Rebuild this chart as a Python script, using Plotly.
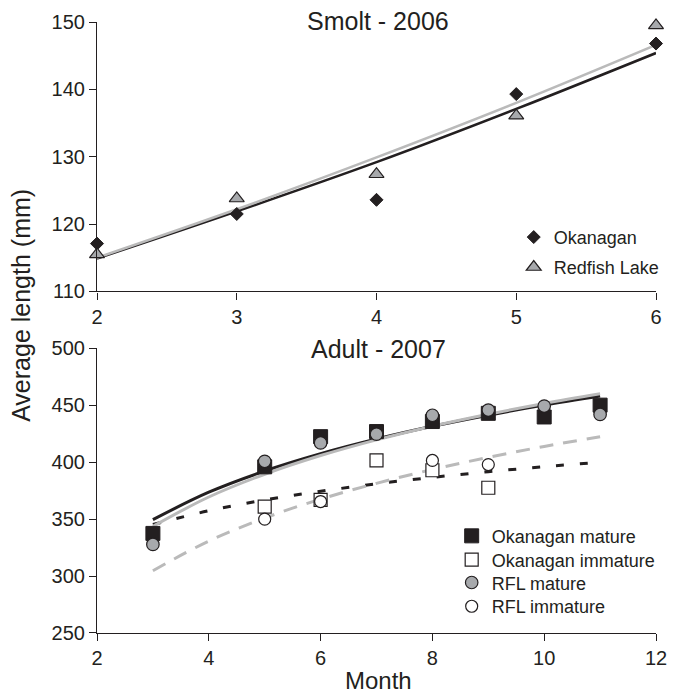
import plotly.graph_objects as go

# ---------------- data ----------------
smolt_months = [2, 3, 4, 5, 6]
smolt_okanagan = [117.1, 121.5, 123.6, 139.3, 146.8]
smolt_redfish = [115.5, 123.8, 127.4, 136.1, 149.5]
smolt_okanagan_trend = [114.9, 121.9, 129.2, 137.1, 145.4]
smolt_redfish_trend = [115.0, 122.2, 129.9, 138.0, 146.6]

adult_trend_months = [3, 4, 5, 6, 7, 8, 9, 10, 11]
okan_mature_trend = [349.6, 373.7, 392.3, 407.5, 420.4, 431.6, 441.4, 450.3, 458.2]
rfl_mature_trend = [343.7, 369.5, 389.5, 405.9, 419.7, 431.7, 442.2, 451.7, 460.2]
okan_immature_trend = [345.3, 357.4, 366.9, 374.5, 381.1, 386.7, 391.7, 396.1, 400.1]
rfl_immature_trend = [304.7, 330.8, 351.0, 367.6, 381.5, 393.7, 404.3, 413.9, 422.5]

okan_mature_months = [3, 5, 6, 7, 8, 9, 10, 11]
okan_mature = [337.5, 396.0, 422.5, 427.0, 435.8, 443.0, 439.8, 450.2]
okan_immature_months = [5, 6, 7, 8, 9]
okan_immature = [361.0, 367.0, 401.6, 393.0, 377.6]
rfl_mature_months = [3, 5, 6, 7, 8, 9, 10, 11]
rfl_mature = [327.8, 400.8, 417.0, 424.7, 441.3, 445.9, 449.4, 442.0]
rfl_immature_months = [5, 6, 8, 9]
rfl_immature = [350.0, 365.5, 401.6, 398.0]

smolt_xticks = [2, 3, 4, 5, 6]
smolt_yticks = [110, 120, 130, 140, 150]
adult_xticks = [2, 4, 6, 8, 10, 12]
adult_yticks = [250, 300, 350, 400, 450, 500]

# ---------------- style ----------------
BLACK = "#231f20"
GREY_LINE = "#bababa"
GREY_FILL = "#a7a9ac"
FONT = "Liberation Sans, Arial, sans-serif"

fig = go.Figure()

# top panel trend lines
fig.add_trace(go.Scatter(x=smolt_months, y=smolt_okanagan_trend, mode="lines",
                         line=dict(color=BLACK, width=2.6, shape="spline"),
                         showlegend=False, xaxis="x", yaxis="y", hoverinfo="skip"))
fig.add_trace(go.Scatter(x=smolt_months, y=smolt_redfish_trend, mode="lines",
                         line=dict(color=GREY_LINE, width=2.6, shape="spline"),
                         showlegend=False, xaxis="x", yaxis="y", hoverinfo="skip"))
# top panel points
fig.add_trace(go.Scatter(x=smolt_months, y=smolt_okanagan, mode="markers", name="Okanagan",
                         marker=dict(symbol="diamond", size=10, color=BLACK,
                                     line=dict(color=BLACK, width=1)),
                         xaxis="x", yaxis="y", legend="legend", cliponaxis=False))
fig.add_trace(go.Scatter(x=smolt_months, y=smolt_redfish, mode="markers", name="Redfish Lake",
                         marker=dict(symbol="triangle-up", size=13, color=GREY_FILL,
                                     line=dict(color=BLACK, width=1.2)),
                         xaxis="x", yaxis="y", legend="legend2", cliponaxis=False))

# bottom panel trend lines
fig.add_trace(go.Scatter(x=adult_trend_months, y=okan_immature_trend, mode="lines",
                         line=dict(color=BLACK, width=3, dash="8px,16px", shape="spline"),
                         showlegend=False, xaxis="x2", yaxis="y2", hoverinfo="skip"))
fig.add_trace(go.Scatter(x=adult_trend_months, y=rfl_immature_trend, mode="lines",
                         line=dict(color=GREY_LINE, width=3, dash="14px,10px", shape="spline"),
                         showlegend=False, xaxis="x2", yaxis="y2", hoverinfo="skip"))
fig.add_trace(go.Scatter(x=adult_trend_months, y=okan_mature_trend, mode="lines",
                         line=dict(color=BLACK, width=3, shape="spline"),
                         showlegend=False, xaxis="x2", yaxis="y2", hoverinfo="skip"))
fig.add_trace(go.Scatter(x=adult_trend_months, y=rfl_mature_trend, mode="lines",
                         line=dict(color=GREY_LINE, width=3, shape="spline"),
                         showlegend=False, xaxis="x2", yaxis="y2", hoverinfo="skip"))

# bottom panel points
fig.add_trace(go.Scatter(x=okan_mature_months, y=okan_mature, mode="markers", name="Okanagan mature",
                         marker=dict(symbol="square", size=14, color=BLACK,
                                     line=dict(color=BLACK, width=1)),
                         xaxis="x2", yaxis="y2", legend="legend3", cliponaxis=False))
fig.add_trace(go.Scatter(x=okan_immature_months, y=okan_immature, mode="markers", name="Okanagan immature",
                         marker=dict(symbol="square", size=13, color="white",
                                     line=dict(color=BLACK, width=1.2)),
                         xaxis="x2", yaxis="y2", legend="legend4", cliponaxis=False))
fig.add_trace(go.Scatter(x=rfl_mature_months, y=rfl_mature, mode="markers", name="RFL mature",
                         marker=dict(symbol="circle", size=12.5, color=GREY_FILL,
                                     line=dict(color=BLACK, width=1.2)),
                         xaxis="x2", yaxis="y2", legend="legend5", cliponaxis=False))
fig.add_trace(go.Scatter(x=rfl_immature_months, y=rfl_immature, mode="markers", name="RFL immature",
                         marker=dict(symbol="circle", size=12, color="white",
                                     line=dict(color=BLACK, width=1.2)),
                         xaxis="x2", yaxis="y2", legend="legend6", cliponaxis=False))

axis_common = dict(showgrid=False, zeroline=False, showline=True, linecolor=BLACK, linewidth=1.2,
                   ticks="outside", ticklen=7, tickwidth=1.2, tickcolor=BLACK,
                   tickfont=dict(family=FONT, size=20, color=BLACK), fixedrange=True)


def leg(x, y):
    return dict(x=x, y=y, xanchor="left", yanchor="middle", bgcolor="rgba(0,0,0,0)",
                font=dict(family=FONT, size=18, color=BLACK))


fig.update_layout(
    width=678, height=694,
    margin=dict(l=97, r=11, t=17, b=61),
    paper_bgcolor="white", plot_bgcolor="white",
    font=dict(family=FONT, color=BLACK),
    xaxis=dict(domain=[0, 1], range=[2, 6], tickvals=smolt_xticks, anchor="y", **axis_common),
    yaxis=dict(domain=[0.559, 1], range=[110, 150], tickvals=smolt_yticks, anchor="x", **axis_common),
    xaxis2=dict(domain=[0, 1], range=[2, 12], tickvals=adult_xticks, anchor="y2", **axis_common),
    yaxis2=dict(domain=[0, 0.4657], range=[250, 500], tickvals=adult_yticks, anchor="x2", **axis_common),
    legend=leg(0.7455, 0.6475),
    legend2=leg(0.7455, 0.5985),
    legend3=leg(0.6345, 0.1585),
    legend4=leg(0.6345, 0.1195),
    legend5=leg(0.6345, 0.0822),
    legend6=leg(0.6345, 0.0433),
    annotations=[
        dict(text="Smolt - 2006", x=0.503, y=1.002, xref="paper", yref="paper",
             xanchor="center", yanchor="middle", showarrow=False,
             font=dict(family=FONT, size=25, color=BLACK)),
        dict(text="Adult - 2007", x=0.503, y=0.464, xref="paper", yref="paper",
             xanchor="center", yanchor="middle", showarrow=False,
             font=dict(family=FONT, size=25, color=BLACK)),
        dict(text="Average length (mm)", x=-0.136, y=0.537, xref="paper", yref="paper",
             xanchor="center", yanchor="middle", textangle=-90, showarrow=False,
             font=dict(family=FONT, size=25, color=BLACK)),
        dict(text="Month", x=0.503, y=-0.0785, xref="paper", yref="paper",
             xanchor="center", yanchor="middle", showarrow=False,
             font=dict(family=FONT, size=24, color=BLACK)),
    ],
)

fig.write_html("out.html",
               config={"displayModeBar": False},
               post_script="document.body.style.margin='0';document.body.style.padding='0';"
                           "document.body.style.overflow='hidden';")
